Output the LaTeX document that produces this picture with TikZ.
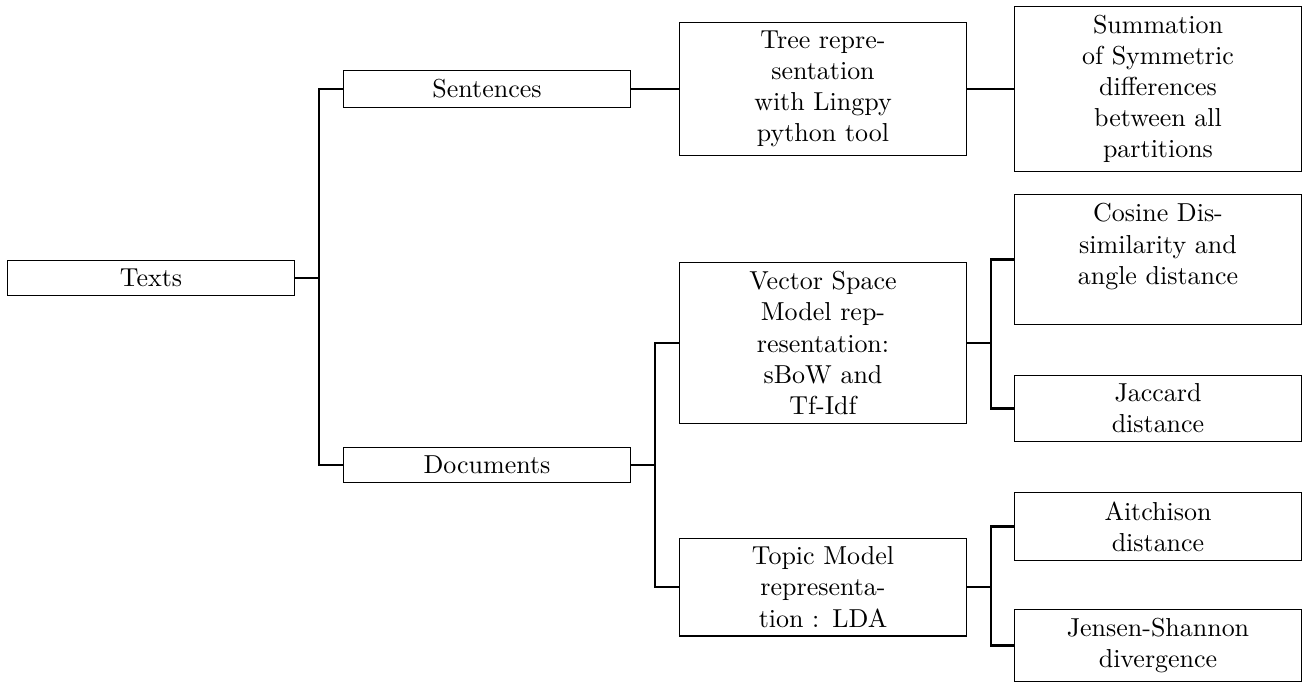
\documentclass[tikz,border=0pt]{standalone}
\begin{document}
\tikzset{
  box/.style={draw, line width=0.4pt, text width=2.5cm, align=center,
    minimum width=110.5pt, inner ysep=0.3333em, anchor=center},
  conn/.style={line width=0.8pt},
}
\begin{tikzpicture}[x=0.385pt,y=-0.385pt]
\useasboundingbox (0,0) rectangle (1304,683);
\node[box] (texts) at (151,278) {Texts};
\node[box] (sent) at (487,89) {Sentences};
\node[box] (docs) at (487,465) {Documents};
\node[box] (tree) at (823,89) {Tree repre-\\sentation\\with Lingpy\\python tool};
\node[box] (summ) at (1158,89) {Summation\\of Symmetric\\differences\\between all\\partitions};
\node[box] (vsm) at (823,343) {Vector Space\\Model rep-\\resentation:\\sBoW and\\Tf-Idf};
\node[box] (cos) at (1158,259.5) {Cosine Dis-\\similarity and\\angle distance\\\mbox{}};
\node[box] (jac) at (1158,408.5) {Jaccard\\distance};
\node[box] (topic) at (823,587) {Topic Model\\representa-\\tion : LDA};
\node[box] (ait) at (1158,526.5) {Aitchison\\distance};
\node[box] (js) at (1158,645.5) {Jensen-Shannon\\divergence};

\draw[conn] (texts.east) -- ++(24,0) |- (sent.west);
\draw[conn] (texts.east) -- ++(24,0) |- (docs.west);
\draw[conn] (sent.east) -- (tree.west);
\draw[conn] (tree.east) -- (summ.west);
\draw[conn] (docs.east) -- ++(24,0) |- (vsm.west);
\draw[conn] (docs.east) -- ++(24,0) |- (topic.west);
\draw[conn] (vsm.east) -- ++(24,0) |- (cos.west);
\draw[conn] (vsm.east) -- ++(24,0) |- (jac.west);
\draw[conn] (topic.east) -- ++(24,0) |- (ait.west);
\draw[conn] (topic.east) -- ++(24,0) |- (js.west);
\end{tikzpicture}
\end{document}
